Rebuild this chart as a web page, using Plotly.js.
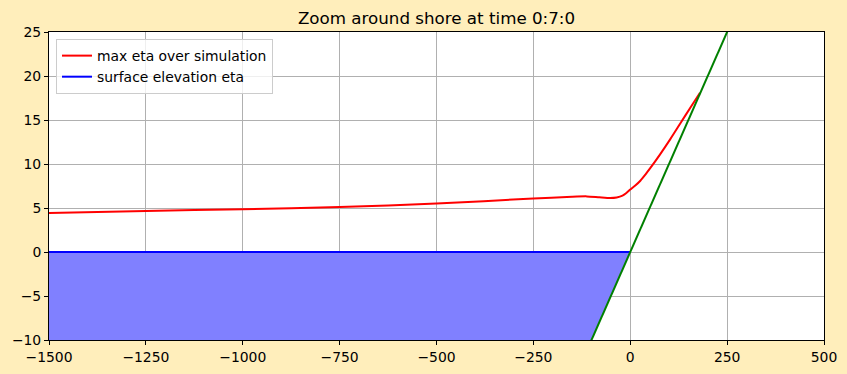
<!DOCTYPE html>
<html>
<head>
<meta charset="utf-8">
<script src="https://cdn.plot.ly/plotly-3.0.1.min.js"></script>
<style>html,body{margin:0;padding:0;background:#ffeebb;}#chart{width:847px;height:374px;}</style>
</head>
<body>
<div id="chart"></div>
<script>
// Topography (straight beach slope)
const topoX = [-1500, -100, 0, 250, 500];
const topoB = [-150, -10, 0, 25, 50];

// Wet region lower boundary (topography under the water) and surface elevation
const wetX = [-1500, -100, 0];
const wetB = [-150, -10, 0];
const etaX = [-1500, 0];
const eta = [0, 0];

// Maximum eta over simulation
const maxX = [-1500, -1250, -1000, -750, -500, -250, -150, -112, -80, -52, -35, -20, -10, 0, 13, 26, 39, 52, 77, 103, 129, 155, 180];
const maxEta = [4.43, 4.65, 4.87, 5.1, 5.5, 6.08, 6.28, 6.32, 6.22, 6.14, 6.2, 6.4, 6.7, 7.1, 7.55, 8.1, 8.8, 9.55, 11.1, 12.8, 14.6, 16.4, 18.1];

const xTicks = [-1500, -1250, -1000, -750, -500, -250, 0, 250, 500];
const yTicks = [-10, -5, 0, 5, 10, 15, 20, 25];

const traces = [
  {x: wetX, y: wetB, mode: 'lines', line: {width: 0, color: 'rgba(0,0,0,0)'}, showlegend: false, hoverinfo: 'skip'},
  {x: etaX, y: eta, mode: 'lines', line: {width: 0, color: 'rgba(0,0,0,0)'}, fill: 'tonexty', fillcolor: '#8080ff', showlegend: false, hoverinfo: 'skip'},
  {x: maxX, y: maxEta, mode: 'lines', name: 'max eta over simulation', line: {color: 'red', width: 2, shape: 'spline', smoothing: 0.6}},
  {x: etaX, y: eta, mode: 'lines', name: 'surface elevation eta', line: {color: 'blue', width: 2}},
  {x: topoX, y: topoB, mode: 'lines', line: {color: 'green', width: 2}, showlegend: false}
];

const axisCommon = {
  showline: true, linecolor: 'black', linewidth: 1, mirror: true,
  ticks: 'outside', ticklen: 4, tickwidth: 1, tickcolor: 'black',
  showgrid: true, gridcolor: '#b0b0b0', gridwidth: 1,
  zeroline: false,
  tickfont: {family: 'DejaVu Sans', size: 13.9, color: 'black'}
};

const layout = {
  width: 847, height: 374,
  paper_bgcolor: '#ffeebb', plot_bgcolor: 'white',
  margin: {l: 49, r: 23, t: 32, b: 34},
  title: {text: 'Zoom around shore at time 0:7:0', font: {family: 'DejaVu Sans', size: 16.7, color: 'black'},
          x: 0.5, xref: 'paper', y: 1 - 18/374, yanchor: 'middle'},
  xaxis: Object.assign({}, axisCommon, {range: [-1500, 500], tickvals: xTicks}),
  yaxis: Object.assign({}, axisCommon, {range: [-10, 25], tickvals: yTicks}),
  legend: {x: 0.009, y: 0.977, xanchor: 'left', yanchor: 'top', traceorder: 'normal',
           bgcolor: 'rgba(255,255,255,0.8)', bordercolor: '#cccccc', borderwidth: 1,
           font: {family: 'DejaVu Sans', size: 13.9, color: 'black'}},
  showlegend: true
};

Plotly.newPlot('chart', traces, layout, {displayModeBar: false, staticPlot: true});
</script>
</body>
</html>
